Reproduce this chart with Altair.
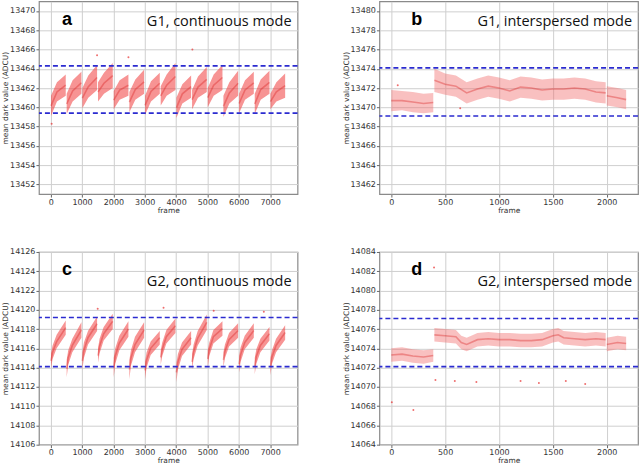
import altair as alt
import pandas as pd

# ---------------- panel a: G1, continuous mode (band per cycle) ----------------
a_frame = [10, 200, 480, 510, 700, 980, 1010, 1200, 1480, 1510, 1700, 1980,
           2010, 2200, 2480, 2510, 2700, 2980, 3010, 3200, 3480, 3510, 3700, 3980,
           4010, 4200, 4480, 4510, 4700, 4980, 5010, 5200, 5480, 5510, 5700, 5980,
           6010, 6200, 6480, 6510, 6700, 6980, 7010, 7200, 7480]
a_lo = [13459.1, 13460.6, 13461.2, 13459.3, 13460.6, 13461.4, 13459.9, 13461.0, 13461.8,
        13460.6, 13461.4, 13462.0, 13459.8, 13460.8, 13461.2, 13459.5, 13460.8, 13461.4,
        13459.2, 13460.6, 13461.4, 13460.2, 13461.2, 13461.8, 13458.9, 13460.4, 13461.0,
        13459.8, 13461.0, 13461.6, 13460.0, 13461.2, 13461.8, 13459.0, 13460.4, 13461.2,
        13459.4, 13460.8, 13461.4, 13459.3, 13460.8, 13461.4, 13459.8, 13460.6, 13461.0]
a_hi = [13461.2, 13462.6, 13463.4, 13461.4, 13462.8, 13463.7, 13462.0, 13463.3, 13464.4,
        13462.6, 13463.6, 13464.6, 13461.7, 13462.8, 13463.4, 13461.6, 13462.9, 13463.9,
        13461.2, 13462.7, 13463.6, 13462.2, 13463.4, 13464.6, 13461.0, 13462.4, 13463.3,
        13461.8, 13463.2, 13464.2, 13462.0, 13463.4, 13464.4, 13461.2, 13462.6, 13463.8,
        13461.4, 13462.8, 13463.7, 13461.4, 13462.9, 13463.8, 13461.4, 13462.6, 13463.5]
a_seg = [i // 3 for i in range(45)]
a_out_frame = [1480, 2480, 4520, 30]
a_out_val = [13465.4, 13465.2, 13466.0, 13458.3]
a_refs = [13464.3, 13459.4]

# ---------------- panel b: G1, interspersed mode ----------------
b_frame = [0, 100, 200, 300, 390,
           400, 500, 600, 700, 800, 900, 1000, 1100, 1200, 1300, 1400, 1500, 1600,
           1700, 1800, 1900, 1990,
           2000, 2100, 2180]
b_lo = [13469.6, 13469.7, 13469.5, 13469.4, 13469.5,
        13471.6, 13471.3, 13471.1, 13470.4, 13470.8, 13471.1, 13470.9, 13470.6, 13471.0,
        13470.9, 13470.7, 13470.8, 13470.8, 13470.9, 13470.8, 13470.5, 13470.4,
        13470.2, 13470.0, 13469.8]
b_hi = [13471.8, 13471.7, 13471.6, 13471.4, 13471.5,
        13474.0, 13473.5, 13473.3, 13472.6, 13473.0, 13473.3, 13473.1, 13472.8, 13473.2,
        13473.1, 13472.9, 13473.0, 13473.0, 13473.1, 13473.0, 13472.7, 13472.6,
        13472.2, 13472.0, 13471.8]
b_seg = [0] * 5 + [1] * 17 + [2] * 3
b_out_frame = [640, 60]
b_out_val = [13469.9, 13472.3]
b_refs = [13474.1, 13469.1]

# ---------------- panel c: G2, continuous mode ----------------
c_frame = [10, 60, 190, 480, 510, 560, 690, 980, 1010, 1060, 1190, 1480,
           1510, 1560, 1690, 1980, 2010, 2060, 2190, 2480, 2510, 2560, 2690, 2980,
           3010, 3060, 3190, 3480, 3510, 3560, 3690, 3980, 4010, 4060, 4190, 4480,
           4510, 4560, 4690, 4980, 5010, 5060, 5190, 5480, 5510, 5560, 5690, 5980,
           6010, 6060, 6190, 6480, 6510, 6560, 6690, 6980, 7010, 7060, 7190, 7480]
c_lo = [14113.9, 14114.9, 14116.0, 14117.4, 14113.0, 14114.3, 14115.6, 14117.1,
        14113.8, 14115.0, 14116.4, 14117.8, 14114.5, 14115.5, 14116.8, 14118.0,
        14113.0, 14114.4, 14115.8, 14117.2, 14112.8, 14114.2, 14115.6, 14117.1,
        14112.8, 14114.0, 14115.3, 14116.4, 14114.3, 14115.2, 14116.5, 14117.6,
        14112.5, 14113.8, 14115.2, 14116.4, 14113.8, 14114.9, 14116.3, 14117.9,
        14114.0, 14115.2, 14116.5, 14117.3, 14114.0, 14115.0, 14116.2, 14117.1,
        14113.5, 14114.6, 14115.9, 14117.1, 14113.3, 14114.4, 14115.6, 14116.8,
        14113.2, 14114.4, 14115.6, 14116.9]
c_hi = [14115.5, 14116.3, 14117.4, 14118.9, 14114.8, 14115.8, 14117.0, 14118.7,
        14115.6, 14116.6, 14117.8, 14119.3, 14116.0, 14117.0, 14118.2, 14119.6,
        14115.0, 14116.0, 14117.3, 14118.8, 14114.8, 14115.8, 14117.2, 14118.7,
        14114.6, 14115.6, 14116.7, 14117.8, 14115.8, 14116.6, 14117.9, 14119.1,
        14114.5, 14115.4, 14116.6, 14117.8, 14115.4, 14116.4, 14117.8, 14119.5,
        14115.8, 14116.6, 14117.9, 14118.8, 14115.6, 14116.4, 14117.6, 14118.6,
        14115.2, 14116.1, 14117.3, 14118.6, 14115.0, 14115.9, 14117.0, 14118.2,
        14115.0, 14115.8, 14117.0, 14118.4]
c_seg = [i // 4 for i in range(60)]
c_out_frame = [1500, 3600, 5200, 6800]
c_out_val = [14120.1, 14120.2, 14119.9, 14119.8]
c_refs = [14119.2, 14114.1]

# ---------------- panel d: G2, interspersed mode ----------------
d_frame = [0, 100, 200, 300, 390,
           400, 500, 600, 650, 700, 800, 900, 1000, 1100, 1200, 1300, 1400, 1500,
           1550, 1600, 1700, 1800, 1900, 1990,
           2000, 2100, 2180]
d_lo = [14072.6, 14072.7, 14072.5, 14072.4, 14072.6,
        14074.7, 14074.6, 14074.5, 14073.9, 14073.7, 14074.2, 14074.3, 14074.2, 14074.2,
        14074.1, 14074.1, 14074.2, 14074.6, 14074.7, 14074.4, 14074.3, 14074.2,
        14074.3, 14074.2,
        14073.7, 14073.9, 14073.8]
d_hi = [14074.0, 14074.1, 14073.9, 14073.8, 14073.9,
        14076.1, 14076.0, 14075.9, 14075.3, 14075.1, 14075.6, 14075.7, 14075.6, 14075.6,
        14075.5, 14075.5, 14075.6, 14076.0, 14076.1, 14075.8, 14075.7, 14075.6,
        14075.7, 14075.6,
        14075.1, 14075.3, 14075.2]
d_seg = [0] * 5 + [1] * 19 + [2] * 3
d_out_frame = [397, 410, 590, 790, 1200, 1370, 1620, 1800, 5, 205]
d_out_val = [14082.4, 14070.7, 14070.6, 14070.5, 14070.6, 14070.4, 14070.6, 14070.3,
             14068.4, 14067.6]
d_refs = [14077.1, 14072.1]

W, H = 259, 193
AXIS_FONT = "DejaVu Sans"
LABEL_FONT = "Liberation Sans"


def panel(frame, lo, hi, seg, out_f, out_v, refs, xdom, xticks, ydom, yticks,
          letter, caption, letter_x, letter_y, cap_y, fill, fill_op):
    band = pd.DataFrame({"frame": frame, "lo": lo, "hi": hi, "seg": seg})
    outl = pd.DataFrame({"frame": out_f, "value": out_v})
    ref = pd.DataFrame({"value": refs})

    xscale = alt.Scale(domain=xdom, nice=False, zero=False)
    yscale = alt.Scale(domain=ydom, nice=False, zero=False)
    xaxis = alt.Axis(values=xticks, title="frame", format="d",
                     labelOverlap=False, labelFlush=False)
    yaxis = alt.Axis(values=yticks, title="mean dark value (ADCU)", format="d",
                     labelOverlap=False, labelFlush=False)

    def X(f):
        return alt.X(f"{f}:Q", scale=xscale, axis=xaxis)

    def Y(f):
        return alt.Y(f"{f}:Q", scale=yscale, axis=yaxis)

    area = alt.Chart(band).mark_area(color=fill, opacity=fill_op, clip=True).encode(
        x=X("frame"), y=Y("lo"), y2="hi:Q", detail="seg:N")
    core = alt.Chart(band).transform_calculate(
        mid="(datum.lo + datum.hi) / 2").mark_line(
        color="#d81818", opacity=0.35, strokeWidth=1.6, clip=True).encode(
        x=X("frame"), y=Y("mid"), detail="seg:N")
    pts = alt.Chart(outl).mark_circle(color="#e83030", size=4, opacity=0.7,
                                      clip=True).encode(x=X("frame"), y=Y("value"))
    rules = alt.Chart(ref).mark_rule(color="#2b2bd0", strokeWidth=1.6,
                                     strokeDash=[5, 3]).encode(y=Y("value"))
    tag = alt.Chart(pd.DataFrame({"t": [letter]})).mark_text(
        font=LABEL_FONT, fontSize=18, fontWeight="bold", align="left",
        baseline="alphabetic", color="black").encode(
        text="t:N", x=alt.value(letter_x), y=alt.value(letter_y))
    cap = alt.Chart(pd.DataFrame({"t": [caption]})).mark_text(
        font="Open Sans", fontSize=14.5, align="right", baseline="alphabetic",
        color="#111").encode(text="t:N", x=alt.value(W - 6), y=alt.value(cap_y))
    return alt.layer(area, core, pts, rules, tag, cap).properties(width=W, height=H)


pa = panel(a_frame, a_lo, a_hi, a_seg, a_out_frame, a_out_val, a_refs,
           [-375, 7875], list(range(0, 7001, 1000)), [13451, 13471],
           list(range(13452, 13471, 2)), "a", "G1, continuous mode", 23, 24, 25,
           "#f03c3c", 0.55)
pb = panel(b_frame, b_lo, b_hi, b_seg, b_out_frame, b_out_val, b_refs,
           [-110, 2290], list(range(0, 2001, 500)), [13461, 13481],
           list(range(13462, 13481, 2)), "b", "G1, interspersed mode", 32, 24, 25,
           "#f06a6a", 0.42)
pc = panel(c_frame, c_lo, c_hi, c_seg, c_out_frame, c_out_val, c_refs,
           [-375, 7875], list(range(0, 7001, 1000)), [14106, 14126],
           list(range(14106, 14127, 2)), "c", "G2, continuous mode", 23, 23, 34,
           "#f03c3c", 0.55)
pd_ = panel(d_frame, d_lo, d_hi, d_seg, d_out_frame, d_out_val, d_refs,
            [-110, 2290], list(range(0, 2001, 500)), [14064, 14084],
            list(range(14064, 14085, 2)), "d", "G2, interspersed mode", 32, 23, 34,
            "#f06a6a", 0.42)

chart = alt.concat(pa, pb, pc, pd_, columns=2, spacing={"row": 58, "column": 82},
                   bounds="flush").properties(
    padding={"left": 0, "top": 0, "right": 0, "bottom": 0}
).configure_view(stroke="#8a8a8a", strokeWidth=1.2).configure_axis(
    labelFont=AXIS_FONT, titleFont=AXIS_FONT, labelFontSize=8, titleFontSize=7.5,
    titleFontWeight="normal", labelColor="#333", titleColor="#333",
    tickColor="#666", tickSize=3, labelPadding=1, domain=False,
    gridColor="#cfcfcf", gridWidth=1
).configure_axisY(titlePadding=0).configure_axisX(titlePadding=0)

chart.save("out.html", embed_options={"renderer": "svg", "actions": False})
